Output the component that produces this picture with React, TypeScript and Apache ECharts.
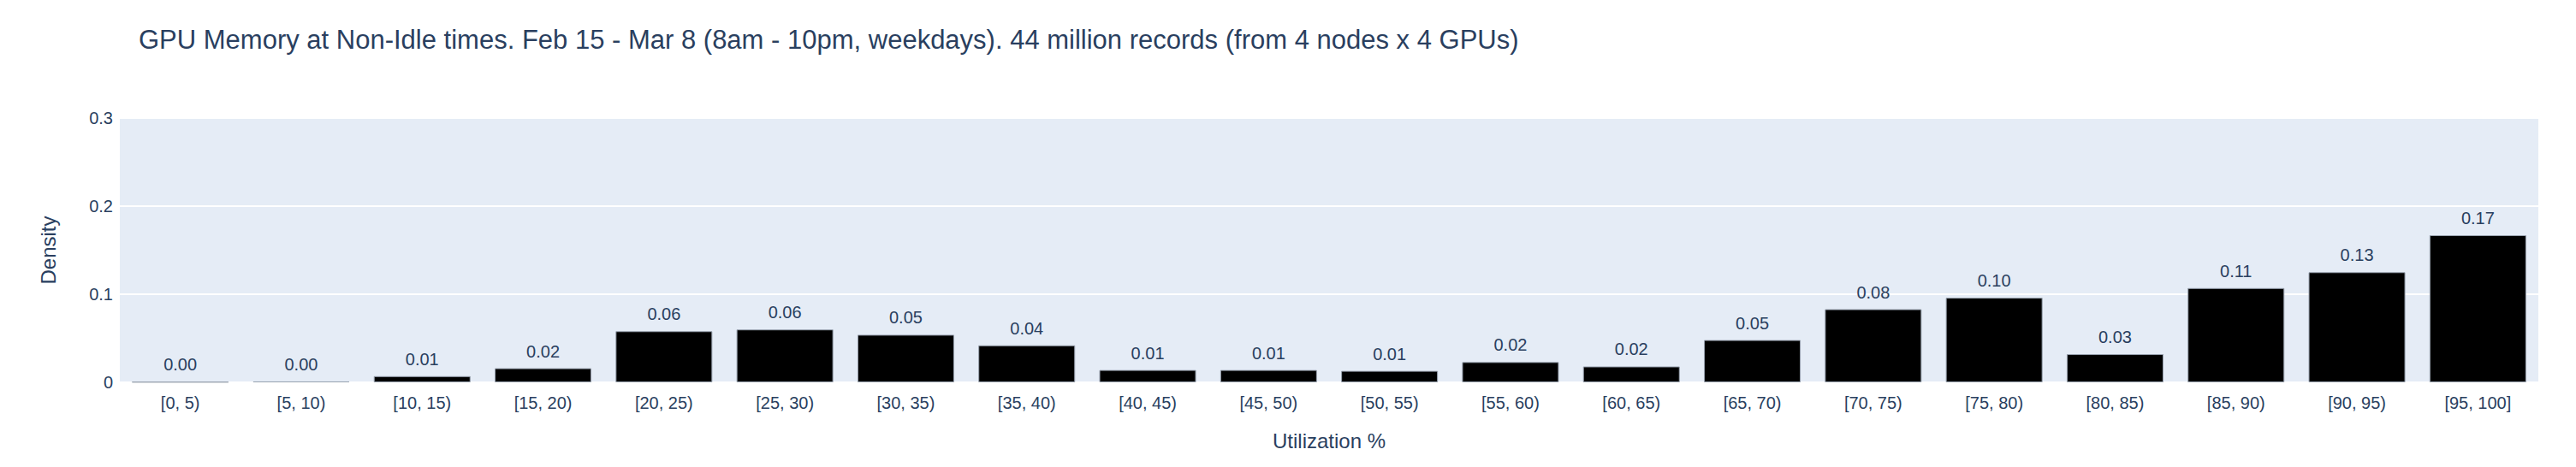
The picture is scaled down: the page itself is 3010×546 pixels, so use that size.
import { useEffect, useRef } from "react";
import * as echarts from "echarts";

const bins = [
  "[0, 5)", "[5, 10)", "[10, 15)", "[15, 20)", "[20, 25)", "[25, 30)", "[30, 35)",
  "[35, 40)", "[40, 45)", "[45, 50)", "[50, 55)", "[55, 60)", "[60, 65)", "[65, 70)",
  "[70, 75)", "[75, 80)", "[80, 85)", "[85, 90)", "[90, 95)", "[95, 100]",
];
const density = [
  0.0005, 0.001, 0.007, 0.016, 0.058, 0.06, 0.054, 0.042, 0.014, 0.014,
  0.013, 0.023, 0.018, 0.048, 0.083, 0.096, 0.032, 0.107, 0.125, 0.167,
];
const yTicks = [0, 0.1, 0.2, 0.3];

const FONT = "Liberation Sans, Arial, sans-serif";
const INK = "#2a3f5f";

export default function App() {
  const chartRef = useRef<HTMLDivElement>(null);

  useEffect(() => {
    if (!chartRef.current) return;
    document.body.style.margin = "0";
    const chart = echarts.init(chartRef.current, undefined, { renderer: "svg" });
    chart.setOption({
      animation: false,
      backgroundColor: "#fff",
      textStyle: { fontFamily: FONT },
      title: {
        text: "GPU Memory at Non-Idle times. Feb 15 - Mar 8 (8am - 10pm, weekdays). 44 million records (from 4 nodes x 4 GPUs)",
        left: 157,
        top: 26,
        textStyle: { fontFamily: FONT, fontSize: 31, fontWeight: "normal", color: INK },
      },
      grid: { left: 140, right: 44, top: 138, bottom: 99, backgroundColor: "#e5ecf6", show: true, borderWidth: 0 },
      xAxis: {
        type: "category",
        data: bins,
        name: "Utilization %",
        nameLocation: "middle",
        nameGap: 56,
        nameTextStyle: { fontSize: 24, color: INK, fontFamily: FONT },
        axisLine: { show: false },
        axisTick: { show: false },
        axisLabel: { fontSize: 20, color: INK, margin: 14, fontFamily: FONT },
      },
      yAxis: {
        type: "value",
        min: 0,
        max: 0.3,
        interval: 0.1,
        name: "Density",
        nameLocation: "middle",
        nameGap: 72,
        nameTextStyle: { fontSize: 24, color: INK, fontFamily: FONT },
        axisLabel: {
          fontSize: 20,
          color: INK,
          fontFamily: FONT,
          formatter: (v: number) => {
            const t = yTicks.find((x) => Math.abs(x - v) < 1e-9);
            return t === 0 ? "0" : String(Number(v.toFixed(1)));
          },
        },
        splitLine: { lineStyle: { color: "#fff", width: 2 } },
      },
      series: [
        {
          type: "bar",
          data: density,
          barCategoryGap: "20%",
          itemStyle: { color: "#000", borderColor: "#9aa3b0", borderWidth: 1 },
          label: {
            show: true,
            position: "top",
            distance: 10,
            fontSize: 20,
            color: INK,
            fontFamily: FONT,
            formatter: (p: any) => p.value.toFixed(2),
          },
        },
      ],
    });
    return () => chart.dispose();
  }, []);

  return <div ref={chartRef} style={{ width: "3010px", height: "546px" }} />;
}
